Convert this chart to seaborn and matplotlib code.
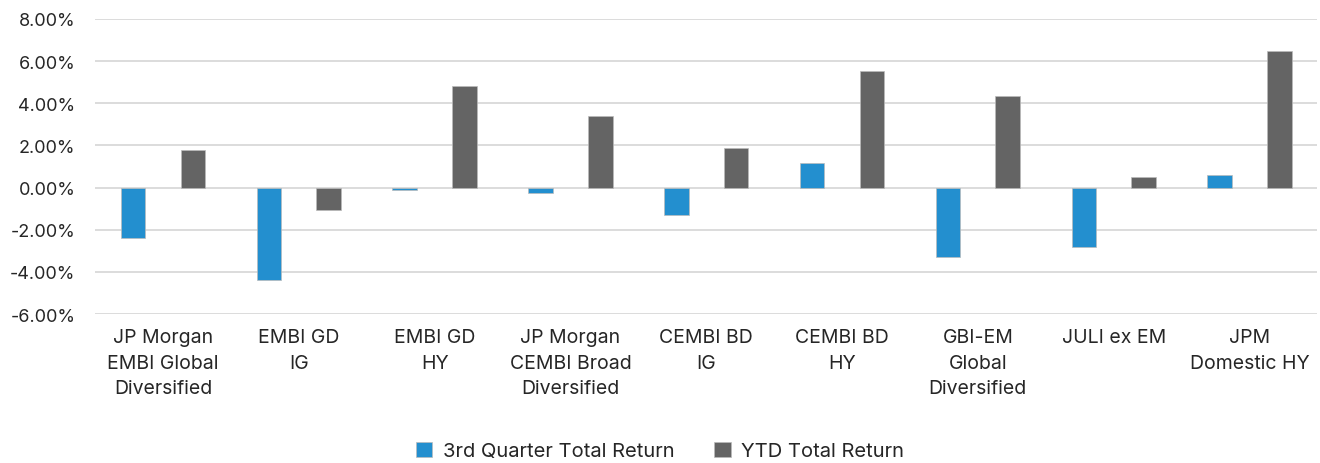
import numpy as np
import pandas as pd
import matplotlib
matplotlib.use("Agg")
import matplotlib.pyplot as plt
import seaborn as sns
from matplotlib.ticker import PercentFormatter

# ------------------------
# Datos
# ------------------------
categories = [
    "JP Morgan\nEMBI Global\nDiversified",
    "EMBI GD\nIG",
    "EMBI GD\nHY",
    "JP Morgan\nCEMBI Broad\nDiversified",
    "CEMBI BD\nIG",
    "CEMBI BD\nHY",
    "GBI-EM\nGlobal\nDiversified",
    "JULI ex EM",
    "JPM\nDomestic HY",
]
q3_return = [-2.37, -4.37, -0.13, -0.24, -1.31, 1.18, -3.30, -2.83, 0.58]
ytd_return = [1.76, -1.06, 4.83, 3.41, 1.87, 5.52, 4.35, 0.48, 6.48]
series_names = ["3rd Quarter Total Return", "YTD Total Return"]
colors = ["#238FCF", "#646464"]

df = pd.DataFrame({
    "category": categories * 2,
    "series": [series_names[0]] * len(categories) + [series_names[1]] * len(categories),
    "value": q3_return + ytd_return,
})

# ------------------------
# Figura
# ------------------------
sns.set_style("white")
plt.rcParams["font.family"] = ["Inter", "DejaVu Sans"]
plt.rcParams["axes.unicode_minus"] = False

fig = plt.figure(figsize=(13.2, 4.64), dpi=100)
ax = fig.add_axes([0.072, 0.321, 0.926, 0.636])

sns.barplot(data=df, x="category", y="value", hue="series", order=categories,
            hue_order=series_names, palette=colors, width=0.88, gap=0.59,
            saturation=1, edgecolor="#BBBBBB", linewidth=0.5, ax=ax, zorder=3)

ax.set_ylim(-6, 8)
ax.set_yticks(np.arange(-6, 9, 2))
ax.yaxis.set_major_formatter(PercentFormatter(decimals=2))
ax.grid(axis="y", color="#D9D9D9", linewidth=1.3, zorder=0)
ax.set_axisbelow(True)
for s in ax.spines.values():
    s.set_visible(False)
ax.set_xlabel("")
ax.set_ylabel("")
ax.tick_params(axis="y", labelsize=13, colors="#262626", length=0, pad=14)
ax.tick_params(axis="x", labelsize=14, colors="#262626", length=0, pad=10)
for t in ax.get_xticklabels():
    t.set_linespacing(1.55)

# leyenda centrada en la figura
handles, labels = ax.get_legend_handles_labels()
ax.get_legend().remove()
fig.legend(handles, labels, loc="center", bbox_to_anchor=(0.5, 0.026), ncol=2,
           frameon=False, fontsize=14.5, handlelength=0.8, handleheight=0.8,
           columnspacing=2.0, handletextpad=0.5, labelcolor="#262626")

fig.savefig("out.png", dpi=100)
